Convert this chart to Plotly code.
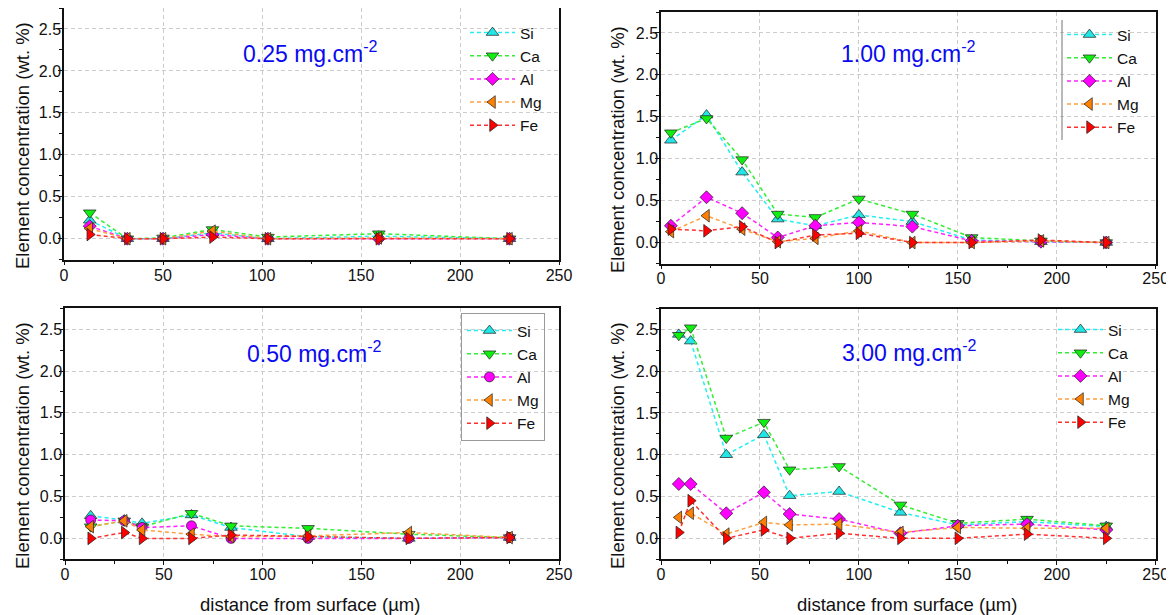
import plotly.graph_objects as go

# The page body adds an 8 px margin; positions below are given in page pixels.
OFF = 8
W, H = 1174, 615

elements = ["Si", "Ca", "Al", "Mg", "Fe"]

# Panel 1: 0.25 mg.cm-2
x_025 = [13, 32, 50, 75, 103, 159, 225]
si_025 = [0.22, 0.00, 0.00, 0.07, 0.00, 0.03, 0.00]
ca_025 = [0.31, 0.00, 0.01, 0.11, 0.02, 0.06, 0.00]
al_025 = [0.15, 0.00, 0.00, 0.05, 0.00, 0.00, 0.00]
mg_025 = [0.12, 0.00, 0.00, 0.09, 0.00, 0.01, 0.00]
fe_025 = [0.05, 0.00, 0.00, 0.02, 0.00, 0.00, 0.00]

# Panel 2: 1.00 mg.cm-2
x_100 = [5, 23, 41, 59, 78, 100, 127, 157, 192, 225]
si_100 = [1.22, 1.52, 0.84, 0.28, 0.20, 0.33, 0.25, 0.03, 0.01, 0.00]
ca_100 = [1.31, 1.48, 0.99, 0.34, 0.30, 0.52, 0.34, 0.06, 0.02, 0.00]
al_100 = [0.20, 0.54, 0.35, 0.06, 0.20, 0.24, 0.19, 0.02, 0.01, 0.00]
mg_100 = [0.13, 0.32, 0.16, 0.01, 0.05, 0.14, 0.00, 0.00, 0.02, 0.00]
fe_100 = [0.16, 0.14, 0.19, 0.00, 0.09, 0.11, 0.00, 0.00, 0.03, 0.00]

# Panel 3: 0.50 mg.cm-2
x_050 = [13, 30, 39, 64, 84, 123, 174, 225]
si_050 = [0.27, 0.22, 0.18, 0.28, 0.13, 0.02, 0.00, 0.01]
ca_050 = [0.14, 0.21, 0.14, 0.30, 0.15, 0.12, 0.05, 0.01]
al_050 = [0.22, 0.21, 0.13, 0.15, 0.00, 0.00, 0.00, 0.01]
mg_050 = [0.14, 0.21, 0.10, 0.05, 0.02, 0.03, 0.07, 0.01]
fe_050 = [0.00, 0.07, 0.00, 0.00, 0.04, 0.02, 0.00, 0.01]

# Panel 4: 3.00 mg.cm-2
x_300 = [9, 15, 33, 52, 65, 90, 121, 150, 185, 225]
si_300 = [2.44, 2.36, 1.00, 1.24, 0.51, 0.56, 0.31, 0.16, 0.20, 0.14]
ca_300 = [2.43, 2.52, 1.20, 1.39, 0.82, 0.86, 0.40, 0.18, 0.23, 0.15]
al_300 = [0.65, 0.65, 0.30, 0.55, 0.29, 0.23, 0.06, 0.15, 0.17, 0.10]
mg_300 = [0.25, 0.30, 0.05, 0.19, 0.16, 0.17, 0.07, 0.13, 0.12, 0.12]
fe_300 = [0.07, 0.45, 0.00, 0.10, 0.00, 0.06, 0.00, 0.00, 0.05, 0.00]

panel_labels = ["0.25 mg.cm<sup>-2</sup>", "1.00 mg.cm<sup>-2</sup>",
                "0.50 mg.cm<sup>-2</sup>", "3.00 mg.cm<sup>-2</sup>"]
x_title = "distance from surface (\u00b5m)"
y_title = "Element concentration (wt. %)"

x_ticks = [0, 50, 100, 150, 200, 250]
y_ticks = [0.0, 0.5, 1.0, 1.5, 2.0, 2.5]

FONT = "Liberation Sans, Arial, sans-serif"
line_colors = {"Si": "#22F0F0", "Ca": "#33EE33", "Al": "#FF22FF", "Mg": "#FFA040", "Fe": "#FF3030"}
fill_colors = {"Si": "#22E6E6", "Ca": "#11EE11", "Al": "#FF00FF", "Mg": "#FF8000", "Fe": "#FF0000"}
symbols = {"Si": "triangle-up", "Ca": "triangle-down", "Al": "diamond", "Mg": "triangle-left", "Fe": "triangle-right"}

panels = [
    (x_025, [si_025, ca_025, al_025, mg_025, fe_025], "x", "y", "legend", {}),
    (x_100, [si_100, ca_100, al_100, mg_100, fe_100], "x2", "y2", "legend2", {}),
    (x_050, [si_050, ca_050, al_050, mg_050, fe_050], "x3", "y3", "legend3", {"Al": "circle"}),
    (x_300, [si_300, ca_300, al_300, mg_300, fe_300], "x4", "y4", "legend4", {}),
]

fig = go.Figure()
for xs, series, xa, ya, lg, sym_over in panels:
    for el, ys in zip(elements, series):
        sym = sym_over.get(el, symbols[el])
        size = 10 if sym in ("diamond", "circle") else 11
        fig.add_trace(go.Scatter(
            x=xs, y=ys, name=el, mode="lines+markers",
            xaxis=xa, yaxis=ya, legend=lg,
            line=dict(color=line_colors[el], width=1.5, dash="4px,3px"),
            marker=dict(symbol=sym, size=size, color=fill_colors[el],
                        line=dict(color="#202020", width=0.7)),
        ))

# page-pixel -> paper fraction helpers
def px_x(p):
    return (p - OFF) / W

def px_y(p):
    return 1 - (p - OFF) / H

domains = {
    "1": ([px_x(64), px_x(559)], [px_y(259.7), px_y(8)]),
    "2": ([px_x(661), px_x(1155.7)], [px_y(263.5), px_y(12)]),
    "3": ([px_x(65), px_x(559)], [px_y(559.3), px_y(308.3)]),
    "4": ([px_x(661), px_x(1155.7)], [px_y(559.2), px_y(308.5)]),
}

axis_common = dict(
    showline=True, linecolor="#111111", linewidth=1.5, mirror=True,
    ticks="outside", ticklen=4, tickwidth=1, tickcolor="#111111",
    showgrid=True, gridcolor="#CCCCCC", gridwidth=1, griddash="4px,3px",
    zeroline=False, automargin=False,
    tickfont=dict(family=FONT, size=16, color="#111111"),
)

layout = {}
for k, (dx, dy) in domains.items():
    sx = "" if k == "1" else k
    layout["xaxis" + sx] = dict(
        axis_common, domain=dx, range=[0, 250], tickvals=x_ticks,
        anchor="y" + sx, ticklabelstandoff=-4,
        minor=dict(ticks="outside", ticklen=3, dtick=25, tick0=0, tickcolor="#111111", showgrid=False),
    )
    layout["yaxis" + sx] = dict(
        axis_common, domain=dy, range=[-0.25, 2.75], tickvals=y_ticks, tickformat=".1f",
        anchor="x" + sx, ticklabelstandoff=-6,
        minor=dict(ticks="outside", ticklen=3, dtick=0.25, tick0=0, tickcolor="#111111", showgrid=False),
    )

leg_common = dict(
    xanchor="left", yanchor="top", bgcolor="rgba(0,0,0,0)",
    font=dict(family=FONT, size=15.5, color="#111111"),
    itemwidth=45, tracegroupgap=0,
)
layout["legend"] = dict(leg_common, x=px_x(465), y=px_y(16))
layout["legend2"] = dict(leg_common, x=px_x(1062), y=px_y(18))
layout["legend3"] = dict(leg_common, x=px_x(461), y=px_y(313), bordercolor="#9A9A9A", borderwidth=1)
layout["legend4"] = dict(leg_common, x=px_x(1053), y=px_y(313))

annotations = []
for txt, (cx, cy) in zip(panel_labels, [(310, 52), (908, 52), (314, 352), (909, 351)]):
    annotations.append(dict(
        text=txt, x=px_x(cx), y=px_y(cy), xref="paper", yref="paper",
        xanchor="center", yanchor="middle", showarrow=False,
        font=dict(family=FONT, size=23, color="#0A0AF0"),
    ))
# axis titles
for cx, cy in [(22, 146), (617, 150), (22, 446), (617, 446)]:
    annotations.append(dict(
        text=y_title, x=px_x(cx), y=px_y(cy), xref="paper", yref="paper",
        xanchor="center", yanchor="middle", showarrow=False, textangle=-90,
        font=dict(family=FONT, size=18.5, color="#111111"),
    ))
for cx, cy in [(310, 604), (907, 604)]:
    annotations.append(dict(
        text=x_title, x=px_x(cx), y=px_y(cy), xref="paper", yref="paper",
        xanchor="center", yanchor="middle", showarrow=False,
        font=dict(family=FONT, size=18.5, color="#111111"),
    ))

shapes = [dict(type="line", xref="paper", yref="paper",
               x0=px_x(1062), x1=px_x(1062), y0=px_y(20), y1=px_y(140),
               line=dict(color="#8A8A8A", width=1.2))]

fig.update_layout(
    width=W, height=H, autosize=False,
    margin=dict(l=0, r=0, t=0, b=0, autoexpand=False),
    paper_bgcolor="white", plot_bgcolor="white",
    showlegend=True, annotations=annotations, shapes=shapes,
    font=dict(family=FONT, color="#111111"),
    **layout,
)

fig.write_html("out.html")
